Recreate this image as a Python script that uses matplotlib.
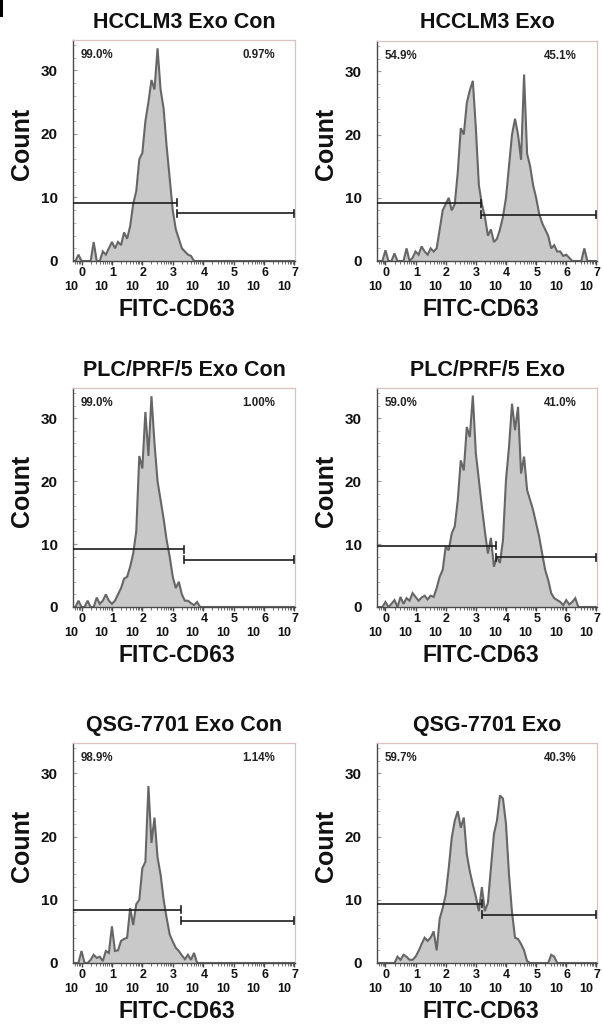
import numpy as np
import matplotlib
matplotlib.use("Agg")
import matplotlib.pyplot as plt
from matplotlib.patches import Rectangle
from matplotlib.ticker import FixedLocator

plt.rcParams['font.family'] = ['Liberation Sans', 'DejaVu Sans']

# ---------------- data (counts every 0.1 decade, starting at log10 = -0.3) ----------------
titles = ["HCCLM3 Exo Con", "HCCLM3 Exo",
          "PLC/PRF/5 Exo Con", "PLC/PRF/5 Exo",
          "QSG-7701 Exo Con", "QSG-7701 Exo"]
left_pct = ["99.0%", "54.9%", "99.0%", "59.0%", "98.9%", "59.7%"]
right_pct = ["0.97%", "45.1%", "1.00%", "41.0%", "1.14%", "40.3%"]

hccl_con = [0, 0, 1, 0, 0, 0, 0, 3, 0, 0, 1.5, 1, 2, 3, 2, 3, 2.5, 4.5, 3.5, 5.5,
            9, 11, 16, 17, 22, 25, 28.5, 27, 33.5, 27, 24, 18, 13, 8, 5, 3.5, 2, 1.5, 1, 0.8]
hccl_exo = [0, 0, 0, 1.7, 0, 0, 1.2, 0, 0, 0, 2, 0, 0.5, 1.5, 1, 2.3, 1.5, 1, 2, 1.5,
            2, 5, 8, 9, 10, 8, 9, 14, 21, 20, 25, 27, 28.5, 21, 12, 9, 7, 4, 5, 3,
            3.5, 5, 7, 10, 15, 20, 22.5, 20, 16, 29.5, 17, 15, 12, 10, 7.5, 6, 5, 4, 2, 2.5,
            1.5, 1.5, 0.8, 1, 0.5, 0, 0, 0, 0, 2]
plc_con = [0, 0, 1, 0, 0, 1, 0, 0, 1.5, 0.5, 1, 2, 1, 0.5, 1, 2, 3, 4.5, 4.8, 6.4,
           8.5, 12, 24, 22, 31, 24, 33.5, 26, 20, 17, 14, 10.6, 8, 4.8, 3, 4, 2, 1, 1, 0.6,
           0.3, 0.8]
plc_exo = [0, 0, 0, 0.8, 0, 0.5, 1.1, 0, 1.6, 0.5, 1.4, 1, 2.2, 1.6, 1, 1.5, 1.8, 1.2, 1.8, 1.6,
           3, 4.8, 5.9, 9.6, 9, 11.7, 12.8, 17, 23.3, 21.7, 28.6, 27, 33.6, 24.4, 20.2, 15.9, 12, 8.5, 11, 6.4,
           8, 7, 10.6, 20.2, 25.4, 32.3, 28.1, 31.8, 21.2, 23.9, 18.6, 17, 15.4, 13.3, 11.2, 8.5, 5.9, 4.3, 2.2, 1.4,
           1.1, 0.8, 0.3, 1.1, 0.4, 0.8, 1.4]
qsg_con = [0, 0, 0, 1.9, 0, 0, 0.5, 1.3, 0.8, 1, 0.3, 1.9, 1.6, 5.8, 1.9, 2, 3.5, 3.8, 4, 8.7,
           6, 9.3, 10, 15, 16, 28, 19, 23, 16.7, 14, 10, 7.1, 4.5, 3.4, 2.4, 1.9, 1.2, 0.6, 1.3, 0.5,
           1.6]
qsg_exo = [0, 0, 0, 0, 0, 0, 0, 1, 0.5, 1.3, 1, 0.5, 0.5, 1, 1.9, 3, 4, 3.5, 4, 5,
           2, 7, 8.7, 10.8, 15, 19.8, 22.5, 24, 21.4, 23, 17.2, 14.5, 12.4, 10.5, 8.2, 12, 8.2, 9.5, 15, 20.4,
           22.5, 26.5, 26, 22, 14, 8, 4, 3.8, 3, 2, 0.3, 0, 0, 0, 0, 0, 0, 0, 1.3, 1]
series = [hccl_con, hccl_exo, plc_con, plc_exo, qsg_con, qsg_exo]

gate_pos = [3.14, 3.16, 3.38, 3.68, 3.26, 3.20]
gate_left_y = [9.2, 9.1, 9.15, 9.7, 8.4, 9.4]
gate_right_y = [7.5, 7.3, 7.5, 7.9, 6.7, 7.6]

decades = list(range(8))
y_ticks = [0, 10, 20, 30]

# ---------------- layout ----------------
W, H = 603, 1026
boxes = [(73, 40, 222, 221), (377, 41, 220, 220),
         (73, 388, 222, 219), (377, 388, 220, 219),
         (73, 743, 222, 220), (377, 743, 220, 220)]
XMIN, XMAX = -0.28, 7.02
YMAX = 34.8

fig = plt.figure(figsize=(W / 100, H / 100), dpi=100)
fig.add_artist(Rectangle((0, 1 - 17 / H), 3 / W, 17 / H, color='black',
                         transform=fig.transFigure, lw=0))

grid = -0.3 + 0.1 * np.arange(74)

for i, (bx, by, bw, bh) in enumerate(boxes):
    ax = fig.add_axes([bx / W, (H - by - bh) / H, bw / W, bh / H])
    counts = np.zeros(len(grid))
    counts[:len(series[i])] = series[i]
    ax.fill_between(grid, counts, 0, color='#c9c9c9', lw=0, zorder=1)
    ax.plot(grid, counts, color='#666666', lw=1.5, zorder=2, solid_joinstyle='miter')

    # gates
    g = gate_pos[i]
    yl, yr = gate_left_y[i], gate_right_y[i]
    gc = '#1c1c1c'
    cap = 0.55
    ax.plot([XMIN, g], [yl, yl], color=gc, lw=1.2, zorder=3, solid_capstyle='butt')
    ax.plot([g, g], [yl - cap, yl + cap], color=gc, lw=1.2, zorder=3)
    ax.plot([g, XMAX - 0.02], [yr, yr], color=gc, lw=1.2, zorder=3, solid_capstyle='butt')
    ax.plot([g, g], [yr - cap, yr + cap], color=gc, lw=1.2, zorder=3)
    ax.plot([XMAX - 0.02, XMAX - 0.02], [yr - cap, yr + cap], color=gc, lw=1.2, zorder=3)

    ax.set_xlim(XMIN, XMAX)
    ax.set_ylim(0, YMAX)

    # spines
    for s in ['left', 'bottom']:
        ax.spines[s].set_color('#4a4a4a')
        ax.spines[s].set_linewidth(1.0)
    for s in ['top', 'right']:
        ax.spines[s].set_color('#d8c4bf')
        ax.spines[s].set_linewidth(0.9)

    # y ticks
    ax.set_yticks(y_ticks)
    ax.set_yticklabels([str(t) for t in y_ticks], fontsize=11, fontweight='bold')
    ax.yaxis.set_minor_locator(FixedLocator([v for v in range(2, 35, 2) if v % 10]))
    ax.tick_params(axis='y', which='major', direction='in', length=3, color='#9a9a9a',
                   pad=11, labelcolor='#111111')
    ax.tick_params(axis='y', which='minor', direction='in', length=2.5, color='#b0b0b0')

    # x ticks (log decades)
    ax.set_xticks(decades)
    ax.set_xticklabels([''] * len(decades))
    minors = [d + np.log10(k) for d in range(-1, 8) for k in range(2, 10)]
    minors = [m for m in minors if XMIN < m < XMAX]
    ax.xaxis.set_minor_locator(FixedLocator(minors))
    ax.tick_params(axis='x', which='major', direction='out', length=3, color='#4a4a4a', width=1)
    ax.tick_params(axis='x', which='minor', direction='out', length=1.8, color='#6a6a6a', width=0.7)
    for d in decades:
        ax.annotate(str(d), xy=(d, 0), xycoords=('data', 'axes fraction'),
                    xytext=(0.5, -8.8), textcoords='offset points',
                    ha='center', va='center', fontsize=9, fontweight='bold', color='#111111')
        ax.annotate('10', xy=(d, 0), xycoords=('data', 'axes fraction'),
                    xytext=(-7.5, -19.0), textcoords='offset points',
                    ha='center', va='center', fontsize=9, fontweight='bold', color='#111111')

    # labels
    ax.text(0.47, -0.22, 'FITC-CD63', transform=ax.transAxes, ha='center', va='center',
            fontsize=16.5, fontweight='bold', color='#111111')
    ax.text(-0.23, 0.53, 'Count', transform=ax.transAxes, ha='center', va='center',
            rotation=90, fontsize=18, fontweight='bold', color='#111111')
    ax.text(0.5, 1 + 18 / bh, titles[i], transform=ax.transAxes, ha='center', va='center',
            fontsize=15.5, fontweight='bold', color='#111111')

    # percentages
    ax.text(0.035, 1 - 15 / bh, left_pct[i], transform=ax.transAxes, ha='left', va='center',
            fontsize=8.3, fontweight='bold', color='#222222')
    ax.text(1 - 20 / bw, 1 - 15 / bh, right_pct[i], transform=ax.transAxes, ha='right',
            va='center', fontsize=8.3, fontweight='bold', color='#222222')

fig.savefig('out.png', dpi=100)
